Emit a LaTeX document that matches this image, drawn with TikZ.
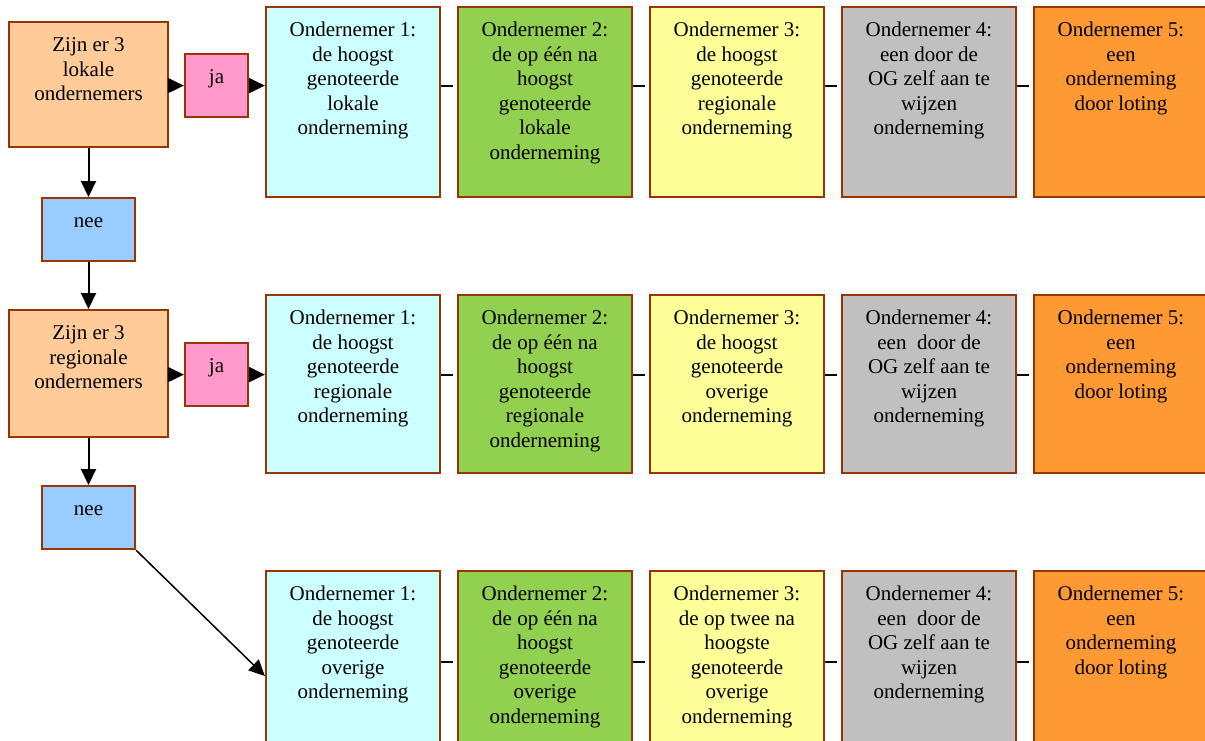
\documentclass[tikz,border=0pt]{standalone}
\usepackage{fontspec}
\setmainfont{Liberation Serif}
\newfontfamily\boxserif{Liberation Serif}
\usetikzlibrary{arrows.meta,calc}
\definecolor{bord}{HTML}{993300}
\definecolor{qfill}{HTML}{FFCC99}
\definecolor{jafill}{HTML}{FF99CC}
\definecolor{neefill}{HTML}{99CCFF}
\definecolor{cfill}{HTML}{CCFFFF}
\definecolor{gfill}{HTML}{92D050}
\definecolor{yfill}{HTML}{FFFF99}
\definecolor{grfill}{HTML}{C0C0C0}
\definecolor{ofill}{HTML}{FF9933}
\newcommand\mkbox[7]{%
  \node[box,fill=#5,minimum width=#6,minimum height=#4,anchor=north] (#1) at (#2,#3) {};
  \node[txt,anchor=north] (#1t) at ([yshift=-13pt]#1.north) {\strut #7};
}
\begin{document}
\begin{tikzpicture}[x=1pt,y=-1pt,
  box/.style={draw=bord, line width=2.2pt, rectangle, inner sep=0pt},
  txt/.style={inner sep=0pt, align=center, font=\boxserif\fontsize{21}{24.6}\selectfont, text=black},
  arr/.style={line width=2pt, -{Triangle[length=16pt,width=15pt]}},
  link/.style={line width=2pt, shorten >=4pt},
]
\useasboundingbox (0,0) rectangle (1205,740);
\clip (0,0) rectangle (1205,740);

% left column
\mkbox{q1}{88.5}{21}{125pt}{qfill}{159pt}{Zijn er 3\\lokale\\ondernemers}
\mkbox{ja1}{216.5}{53}{63pt}{jafill}{63pt}{ja}
\mkbox{nee1}{88.5}{197}{63pt}{neefill}{93pt}{nee}
\mkbox{q2}{88.5}{309}{127pt}{qfill}{159pt}{Zijn er 3\\regionale\\ondernemers}
\mkbox{ja2}{216.5}{342}{63pt}{jafill}{63pt}{ja}
\mkbox{nee2}{88.5}{485}{63pt}{neefill}{93pt}{nee}

% row 1
\mkbox{r1b1}{353}{6}{190pt}{cfill}{174pt}{Ondernemer 1:\\de hoogst\\genoteerde\\lokale\\onderneming}
\mkbox{r1b2}{545}{6}{190pt}{gfill}{174pt}{Ondernemer 2:\\de op één na\\hoogst\\genoteerde\\lokale\\onderneming}
\mkbox{r1b3}{737}{6}{190pt}{yfill}{174pt}{Ondernemer 3:\\de hoogst\\genoteerde\\regionale\\onderneming}
\mkbox{r1b4}{929}{6}{190pt}{grfill}{174pt}{Ondernemer 4:\\een door de\\OG zelf aan te\\wijzen\\onderneming}
\mkbox{r1b5}{1121}{6}{190pt}{ofill}{174pt}{Ondernemer 5:\\een\\onderneming\\door loting}

% row 2
\mkbox{r2b1}{353}{294}{178pt}{cfill}{174pt}{Ondernemer 1:\\de hoogst\\genoteerde\\regionale\\onderneming}
\mkbox{r2b2}{545}{294}{178pt}{gfill}{174pt}{Ondernemer 2:\\de op één na\\hoogst\\genoteerde\\regionale\\onderneming}
\mkbox{r2b3}{737}{294}{178pt}{yfill}{174pt}{Ondernemer 3:\\de hoogst\\genoteerde\\overige\\onderneming}
\mkbox{r2b4}{929}{294}{178pt}{grfill}{174pt}{Ondernemer 4:\\een\ \ door de\\OG zelf aan te\\wijzen\\onderneming}
\mkbox{r2b5}{1121}{294}{178pt}{ofill}{174pt}{Ondernemer 5:\\een\\onderneming\\door loting}

% row 3
\mkbox{r3b1}{353}{570}{190pt}{cfill}{174pt}{Ondernemer 1:\\de hoogst\\genoteerde\\overige\\onderneming}
\mkbox{r3b2}{545}{570}{190pt}{gfill}{174pt}{Ondernemer 2:\\de op één na\\hoogst\\genoteerde\\overige\\onderneming}
\mkbox{r3b3}{737}{570}{190pt}{yfill}{174pt}{Ondernemer 3:\\de op twee na\\hoogste\\genoteerde\\overige\\onderneming}
\mkbox{r3b4}{929}{570}{190pt}{grfill}{174pt}{Ondernemer 4:\\een\ \ door de\\OG zelf aan te\\wijzen\\onderneming}
\mkbox{r3b5}{1121}{570}{190pt}{ofill}{174pt}{Ondernemer 5:\\een\\onderneming\\door loting}

% level coordinates
\coordinate (d1) at (0,85.5);
\coordinate (d2) at (0,374.5);
\coordinate (d3) at (0,661.5);
\coordinate (in3) at (0,676);

% flow arrows
\draw[arr] (q1.east |- ja1) -- (ja1.west);
\draw[arr] (ja1.east) -- (r1b1.west |- ja1);
\draw[arr] (q1.south) -- (nee1.north);
\draw[arr] (nee1.south) -- (q2.north);
\draw[arr] (q2.east |- ja2) -- (ja2.west);
\draw[arr] (ja2.east) -- (r2b1.west |- ja2);
\draw[arr] (q2.south) -- (nee2.north);
\draw[arr, line width=1.5pt] (nee2.south east) -- (r3b1.west |- in3);

% links between entrepreneurs
\foreach \r/\d in {r1/d1, r2/d2, r3/d3}{
  \foreach \a/\b in {1/2, 2/3, 3/4, 4/5}{
    \draw[link] (\r b\a.east |- \d) -- (\r b\b.west |- \d);
  }
}
\end{tikzpicture}
\end{document}
